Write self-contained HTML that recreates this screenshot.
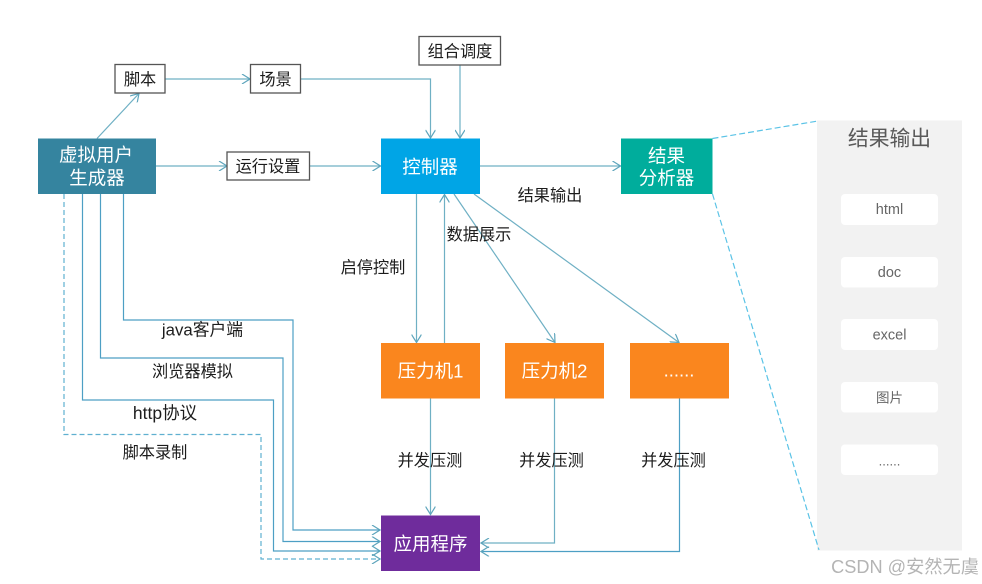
<!DOCTYPE html>
<html lang="zh"><head><meta charset="utf-8"><style>
html,body{margin:0;padding:0;background:#fff}
svg{display:block;filter:blur(.3px)}
text{font-family:"Liberation Sans","Noto Sans CJK SC",sans-serif;text-anchor:middle;dominant-baseline:central}
.l{fill:none;stroke:#6fb0c4;stroke-width:1.2}
.b{fill:none;stroke:#4d9fc4;stroke-width:1.2}
.d{fill:none;stroke:#5fb0d0;stroke-width:1.2;stroke-dasharray:5 3}
.c{fill:none;stroke:#5bc3e6;stroke-width:1.2;stroke-dasharray:6 3}
.box{fill:#fff;stroke:#555;stroke-width:1.3}
.t{font-size:16.2px;fill:#1c1c1c}
.w{font-size:18.5px;fill:#fff}
.g{font-size:14.5px;fill:#666}
.i{fill:#fff}
</style></head><body>
<svg width="982" height="584" viewBox="0 0 982 584" xmlns="http://www.w3.org/2000/svg">
<defs><marker id="a" viewBox="0 0 10 10" refX="9" refY="5" markerWidth="10" markerHeight="10" markerUnits="userSpaceOnUse" orient="auto"><path d="M1 0L9 5L1 10" fill="none" stroke="#5ea5bc" stroke-width="1.2"/></marker></defs>

<rect x="817" y="120.5" width="145" height="430" fill="#f2f2f2"/>
<rect class="i" x="841" y="194" width="97" height="31" rx="4"/>
<rect class="i" x="841" y="257" width="97" height="30.5" rx="4"/>
<rect class="i" x="841" y="319" width="97" height="31" rx="4"/>
<rect class="i" x="841" y="382" width="97" height="30.5" rx="4"/>
<rect class="i" x="841" y="444.5" width="97" height="30.5" rx="4"/>

<path class="c" d="M712.5 138.5L818 121"/>
<path class="c" d="M712.5 194L819 550"/>

<path class="l" marker-end="url(#a)" d="M97 138.5L139 93.5"/>
<path class="l" marker-end="url(#a)" d="M165 79H250"/>
<path class="l" marker-end="url(#a)" d="M300.5 79H430.5V138"/>
<path class="l" marker-end="url(#a)" d="M460 65V138"/>
<path class="l" marker-end="url(#a)" d="M156 166H227"/>
<path class="l" marker-end="url(#a)" d="M309.5 166H380.5"/>
<path class="l" marker-end="url(#a)" d="M480 166H620.5"/>
<path class="l" marker-end="url(#a)" d="M416.5 194V342.5"/>
<path class="l" marker-end="url(#a)" d="M444.5 343V194.5"/>
<path class="l" marker-end="url(#a)" d="M454 194L555 342.5"/>
<path class="l" marker-end="url(#a)" d="M474 194L679 342.5"/>
<path class="l" marker-end="url(#a)" d="M430.5 398.5V514.5"/>
<path class="l" marker-end="url(#a)" d="M554.5 398.5V543H481"/>
<path class="b" marker-end="url(#a)" d="M679.5 398.5V551.5H481"/>

<path class="b" marker-end="url(#a)" d="M123.5 194V320H293V530H380"/>
<path class="b" marker-end="url(#a)" d="M100.5 194V358H283V541.5H380"/>
<path class="b" marker-end="url(#a)" d="M82.5 194V400H273.5V551H380"/>
<path class="d" marker-end="url(#a)" d="M64 194V434.5H261V559H380"/>

<rect x="38" y="138.5" width="118" height="55.5" fill="#35849f"/>
<rect x="381" y="138.5" width="99" height="55.5" fill="#00a5e6"/>
<rect x="621" y="138.5" width="91.5" height="55.5" fill="#00ad9c"/>
<rect x="381" y="343" width="99" height="55.5" fill="#fa861e"/>
<rect x="505" y="343" width="99" height="55.5" fill="#fa861e"/>
<rect x="630" y="343" width="99" height="55.5" fill="#fa861e"/>
<rect x="381" y="515.5" width="99" height="55.5" fill="#6f2c9c"/>

<rect class="box" x="115" y="64.5" width="50" height="28.5"/>
<rect class="box" x="250.5" y="64.5" width="50" height="28.5"/>
<rect class="box" x="227" y="152" width="82.5" height="28"/>
<rect class="box" x="419" y="36.5" width="81.5" height="28.5"/>

<text class="t" x="140" y="80">脚本</text>
<text class="t" x="275.5" y="80">场景</text>
<text class="t" x="268" y="167">运行设置</text>
<text class="t" x="460" y="52">组合调度</text>

<text class="w" x="96" y="155">虚拟用户</text>
<text class="w" x="97" y="178">生成器</text>
<text class="w" x="430" y="167">控制器</text>
<text class="w" x="666.5" y="156">结果</text>
<text class="w" x="666.5" y="178">分析器</text>
<text class="w" x="430.5" y="371">压力机1</text>
<text class="w" x="554.5" y="371">压力机2</text>
<text class="w" x="679" y="370">......</text>
<text class="w" x="430.5" y="544">应用程序</text>

<text class="t" x="550" y="196">结果输出</text>
<text class="t" x="479" y="235">数据展示</text>
<text class="t" x="373" y="268">启停控制</text>
<text class="t" x="202.5" y="330" style="font-size:16.8px">java客户端</text>
<text class="t" x="192.5" y="372">浏览器模拟</text>
<text class="t" x="165" y="413" style="font-size:17.5px">http协议</text>
<text class="t" x="155" y="453">脚本录制</text>
<text class="t" x="430" y="461">并发压测</text>
<text class="t" x="551.5" y="461">并发压测</text>
<text class="t" x="673.5" y="461">并发压测</text>

<text x="889.5" y="139" style="font-size:20.8px;fill:#595959">结果输出</text>
<text class="g" x="889.5" y="210">html</text>
<text class="g" x="889.5" y="273">doc</text>
<text class="g" x="889.5" y="335.5">excel</text>
<text class="g" x="889.5" y="398" style="font-size:13.5px">图片</text>
<text class="g" x="889.5" y="461" style="font-size:13px">......</text>

<text x="905" y="567" style="font-size:18.2px;fill:#b4b4b4">CSDN @安然无虞</text>
</svg>
</body></html>
